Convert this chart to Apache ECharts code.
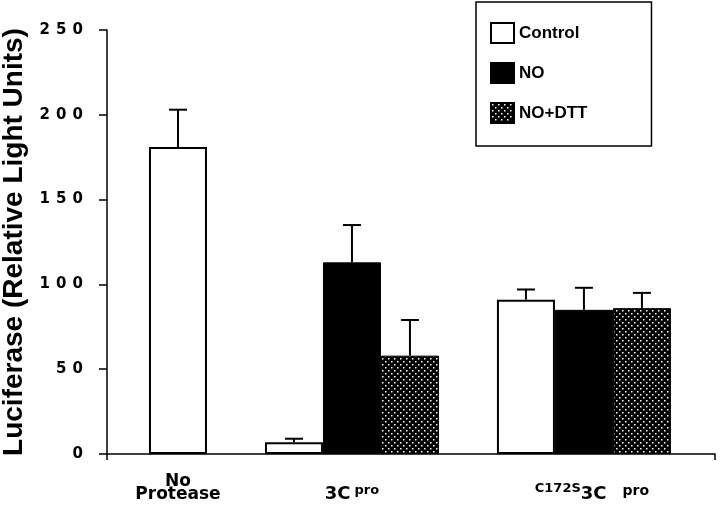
<!DOCTYPE html>
<html>
<head>
<meta charset="utf-8">
<script src="https://cdn.jsdelivr.net/npm/echarts@6/dist/echarts.min.js"></script>
<style>
html,body{margin:0;padding:0;background:#fff;}
#chart{width:720px;height:511px;}
</style>
</head>
<body>
<div id="chart"></div>
<script>
// ---- data ----
const categories = ['No Protease', '3C pro', 'C172S 3C pro'];
const seriesNames = ['Control', 'NO', 'NO+DTT'];
const controlValues = [181, 7, 91];
const controlErrors = [22, 2, 6];
const noValues = [null, 113, 85];
const noErrors = [null, 22, 13];
const dttValues = [null, 58, 86];
const dttErrors = [null, 21, 9];
const yTicks = [0, 50, 100, 150, 200, 250];

// ---- layout (slot units: one slot = one bar width) ----
const groupCenter = [0, 3, 7];
const seriesOffset = [-1, 0, 1];
const xMin = -1.224, xMax = 9.26;

const allValues = [controlValues, noValues, dttValues];
const allErrors = [controlErrors, noErrors, dttErrors];
function slotOf(si, gi) {
  const n = allValues.filter(v => v[gi] != null).length;
  return n === 1 ? groupCenter[gi] : groupCenter[gi] + seriesOffset[si];
}

// dotted pattern for NO+DTT
const pat = document.createElement('canvas');
pat.width = 6; pat.height = 6;
const pc = pat.getContext('2d');
pc.fillStyle = '#000'; pc.fillRect(0, 0, 6, 6);
pc.fillStyle = '#fff';
pc.fillRect(1, 1, 1.5, 1.5);
pc.fillRect(4, 4, 1.5, 1.5);

const styles = [
  { color: '#fff', borderColor: '#000', borderWidth: 2 },
  { color: '#000', borderColor: '#000', borderWidth: 1 },
  { color: { image: pat, repeat: 'repeat' }, borderColor: '#000', borderWidth: 1 }
];

const series = [];
seriesNames.forEach((name, si) => {
  const data = [];
  allValues[si].forEach((v, gi) => { if (v != null) data.push([slotOf(si, gi), v]); });
  series.push({
    name: name, type: 'bar', barWidth: 58, barGap: '-100%',
    itemStyle: styles[si], data: data, z: 2
  });
});
const errData = [];
seriesNames.forEach((name, si) => {
  allValues[si].forEach((v, gi) => {
    if (v != null) errData.push([slotOf(si, gi), v, allErrors[si][gi]]);
  });
});
series.push({
  type: 'custom', name: 'err', z: 5, silent: true,
  encode: { x: 0, y: 1 },
  data: errData,
  renderItem: function (params, api) {
    const x = api.value(0), y = api.value(1), e = api.value(2);
    const p0 = api.coord([x, y]);
    const p1 = api.coord([x, y + e]);
    return {
      type: 'group', children: [
        { type: 'line', shape: { x1: p0[0], y1: p0[1], x2: p1[0], y2: p1[1] }, style: { stroke: '#000', lineWidth: 2 } },
        { type: 'line', shape: { x1: p1[0] - 9, y1: p1[1], x2: p1[0] + 9, y2: p1[1] }, style: { stroke: '#000', lineWidth: 2 } }
      ]
    };
  }
});

const labelRich = [
  '{a|No}\n{a|Protease}',
  '{b|3C}{s|pro}',
  '{c|C172S}{b|3C}{s2|pro}'
];
const FF = 'DejaVu Sans';

const chart = echarts.init(document.getElementById('chart'), null, { renderer: 'canvas' });
chart.setOption({
  animation: false,
  backgroundColor: '#fff',
  grid: { left: 107, right: 5, top: 30, bottom: 57, containLabel: false, outerBoundsMode: 'none' },
  legend: {
    orient: 'vertical', left: 476, top: 2,
    data: seriesNames,
    icon: 'rect', itemWidth: 23, itemHeight: 20, itemGap: 18,
    padding: [20, 64, 22, 14],
    borderColor: '#000', borderWidth: 1.5,
    textStyle: { fontFamily: 'Liberation Sans', fontWeight: 'bold', fontSize: 17, color: '#000' },
    selectedMode: false
  },
  xAxis: {
    type: 'value', min: xMin, max: xMax,
    splitLine: { show: false },
    axisLine: { show: true, onZero: false, lineStyle: { color: '#000', width: 1.5 } },
    axisTick: { show: true, length: 6, customValues: [xMin, xMax], lineStyle: { color: '#000', width: 1.5 } },
    axisLabel: {
      show: true, margin: 21,
      customValues: groupCenter,
      formatter: function (v) {
        const i = groupCenter.indexOf(v);
        return i >= 0 ? labelRich[i] : '';
      },
      rich: {
        a: { fontFamily: FF, fontWeight: 'bold', fontSize: 17, lineHeight: 13, color: '#000', align: 'center' },
        b: { fontFamily: FF, fontWeight: 'bold', fontSize: 18, lineHeight: 39, color: '#000' },
        s: { fontFamily: FF, fontWeight: 'bold', fontSize: 13, lineHeight: 13, color: '#000', padding: [0, 0, 8, 4] },
        c: { fontFamily: FF, fontWeight: 'bold', fontSize: 13, lineHeight: 13, color: '#000', padding: [0, 0, 12, 16] },
        s2: { fontFamily: FF, fontWeight: 'bold', fontSize: 14, lineHeight: 14, color: '#000', padding: [0, 0, 6, 16] }
      }
    }
  },
  yAxis: {
    type: 'value', min: 0, max: 250, interval: 50,
    name: 'Luciferase (Relative Light Units)',
    nameLocation: 'middle', nameGap: 72, nameRotate: 90,
    nameTextStyle: { fontFamily: 'Liberation Sans', fontWeight: 'bold', fontSize: 28, color: '#000' },
    splitLine: { show: false },
    axisLine: { show: true, onZero: false, lineStyle: { color: '#000', width: 1.5 } },
    axisTick: { show: true, length: 8, lineStyle: { color: '#000', width: 1.5 } },
    axisLabel: {
      margin: 21,
      formatter: function (v) { return String(v).split('').map(d => '{d|' + d + '}').join(''); },
      rich: { d: { fontFamily: FF, fontWeight: 'bold', fontSize: 15, width: 16.5, align: 'center', color: '#000' } }
    }
  },
  series: series
});
</script>
</body>
</html>
